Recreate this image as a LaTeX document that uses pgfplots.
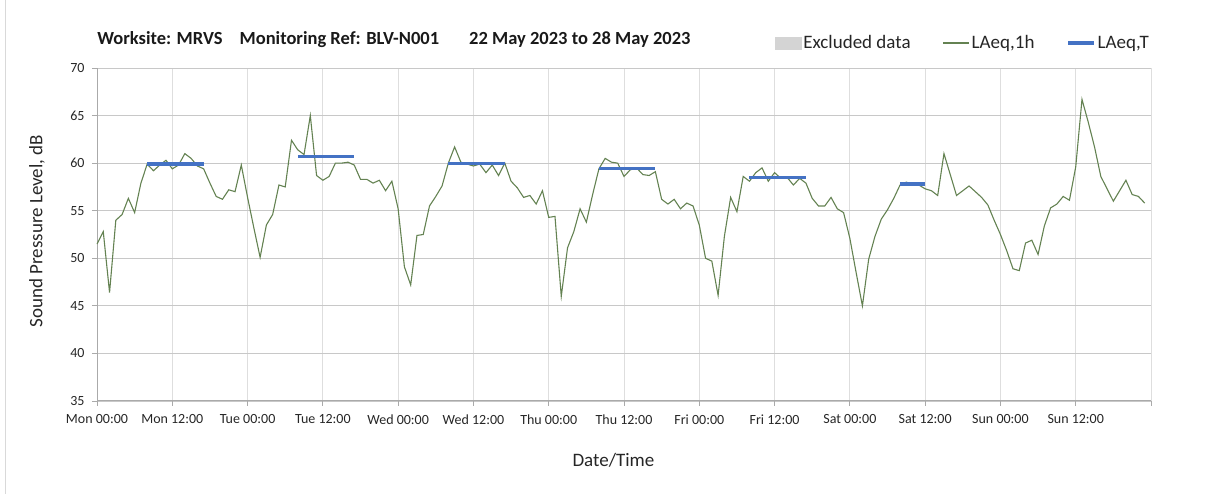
\documentclass[border=0pt]{standalone}
\usepackage{pgfplots}
\usepackage{pgfplotstable}
\pgfplotsset{compat=1.18}
\usepackage{fontspec}
\setmainfont{Carlito}

\definecolor{lgreen}{RGB}{100,130,82}
\definecolor{lblue}{RGB}{68,114,196}
\definecolor{hgridc}{RGB}{200,200,200}
\definecolor{vgridc}{RGB}{222,222,222}
\definecolor{spinec}{RGB}{170,170,170}
\definecolor{exclc}{RGB}{212,212,212}

\pgfplotstableread{
h v
0 51.5
1 52.8
2 46.4
3 54.0
4 54.6
5 56.3
6 54.8
7 57.9
8 59.9
9 59.2
10 59.8
11 60.3
12 59.4
13 59.8
14 61.0
15 60.5
16 59.7
17 59.4
18 57.9
19 56.5
20 56.2
21 57.2
22 57.0
23 59.8
24 56.4
25 53.2
26 50.1
27 53.5
28 54.6
29 57.7
30 57.5
31 62.4
32 61.4
33 60.9
34 65.0
35 58.7
36 58.2
37 58.6
38 60.0
39 60.0
40 60.1
41 59.8
42 58.3
43 58.3
44 57.9
45 58.2
46 57.1
47 58.1
48 55.2
49 49.1
50 47.2
51 52.4
52 52.5
53 55.5
54 56.5
55 57.6
56 60.0
57 61.7
58 60.1
59 59.9
60 59.7
61 59.9
62 59.0
63 59.8
64 58.7
65 60.0
66 58.1
67 57.4
68 56.4
69 56.6
70 55.7
71 57.1
72 54.3
73 54.4
74 46.0
75 51.1
76 52.8
77 55.2
78 53.8
79 56.7
80 59.4
81 60.5
82 60.1
83 60.0
84 58.6
85 59.3
86 59.5
87 58.8
88 58.7
89 59.1
90 56.2
91 55.7
92 56.2
93 55.2
94 55.8
95 55.5
96 53.5
97 50.0
98 49.7
99 46.1
100 52.3
101 56.4
102 54.9
103 58.6
104 58.1
105 59.0
106 59.5
107 58.1
108 59.0
109 58.4
110 58.5
111 57.7
112 58.4
113 57.9
114 56.3
115 55.5
116 55.5
117 56.4
118 55.2
119 54.8
120 52.1
121 48.5
122 45.0
123 49.9
124 52.3
125 54.1
126 55.1
127 56.3
128 57.7
129 58.0
130 57.8
131 57.7
132 57.3
133 57.1
134 56.6
135 61.0
136 58.8
137 56.6
138 57.1
139 57.6
140 57.0
141 56.4
142 55.6
143 54.0
144 52.5
145 50.8
146 48.9
147 48.7
148 51.6
149 51.9
150 50.4
151 53.4
152 55.3
153 55.7
154 56.5
155 56.1
156 59.6
157 66.7
158 64.3
159 61.7
160 58.6
161 57.3
162 56.0
163 57.1
164 58.2
165 56.7
166 56.5
167 55.8
}\laeqdata

\begin{document}
\begin{tikzpicture}
\path[use as bounding box] (0pt,0pt) rectangle (1208pt,494pt);
\draw[black!15, line width=0.8pt] (5.5pt,0pt) -- (5.5pt,494pt);
\begin{axis}[
  at={(97pt,93pt)}, anchor=south west,
  scale only axis, width=1054pt, height=333pt,
  xmin=0, xmax=168, ymin=35, ymax=70,
  xtick={0,12,...,168},
  xticklabels={Mon 00:00,Mon 12:00,Tue 00:00,Tue 12:00,Wed 00:00,Wed 12:00,Thu 00:00,Thu 12:00,Fri 00:00,Fri 12:00,Sat 00:00,Sat 12:00,Sun 00:00,Sun 12:00,{}},
  ytick={35,40,...,70},
  axis lines=left,
  axis line style={-, draw=spinec, line width=1pt},
  tick align=outside,
  major tick length=5pt,
  tick style={draw=spinec, line width=0.8pt},
  xmajorgrids, ymajorgrids,
  x grid style={draw=vgridc, line width=0.9pt},
  y grid style={draw=hgridc, line width=0.9pt},
  /pgf/number format/assume math mode=true,
  ticklabel style={font=\fontsize{14}{16}\selectfont, text=black!85},
  xticklabel style={yshift=-5pt},
  yticklabel style={xshift=-4pt},
  ylabel={Sound Pressure Level, dB},
  ylabel style={at={(axis description cs:-0.057,0.51)}, anchor=center, font=\fontsize{19}{22}\selectfont, text=black!85},
  xlabel={Date/Time},
  xlabel style={at={(axis description cs:0.49,-0.177)}, anchor=center, font=\fontsize{19}{22}\selectfont, text=black!85},
  legend columns=3,
  legend style={at={(axis description cs:0.643,1.075)}, anchor=west, draw=none, fill=none,
    font=\fontsize{19}{22}\selectfont, text=black!85,
    /tikz/every even column/.append style={column sep=30pt},
    inner sep=0pt, cells={anchor=west}},
  legend image code/.code={\draw[#1] (0pt,0pt) -- (26pt,0pt);},
  clip=false,
]
\addlegendimage{legend image code/.code={\fill[exclc] (0pt,-6pt) rectangle (26pt,6pt);}}
\addlegendentry{Excluded data}
\addplot[lgreen, line width=1.1pt] table[x=h, y=v] {\laeqdata};
\addlegendentry{LAeq,1h}
\addplot[lblue, line width=3.2pt] coordinates {(8,59.9) (17,59.9)};
\addlegendentry{LAeq,T}
\addplot[lblue, line width=3.2pt, forget plot] coordinates {(32,60.7) (41,60.7)};
\addplot[lblue, line width=3.2pt, forget plot] coordinates {(56,60.0) (65,60.0)};
\addplot[lblue, line width=3.2pt, forget plot] coordinates {(80,59.4) (89,59.4)};
\addplot[lblue, line width=3.2pt, forget plot] coordinates {(104,58.5) (113,58.5)};
\addplot[lblue, line width=3.2pt, forget plot] coordinates {(128,57.8) (132,57.8)};
\node[anchor=west, font=\fontsize{18.5}{21}\selectfont\bfseries, text=black!90] at (axis description cs:-0.003,1.084)
  {Worksite: MRVS\hspace{17pt}Monitoring Ref: BLV-N001\hspace{30pt}22 May 2023 to 28 May 2023};
\end{axis}
\end{tikzpicture}
\end{document}
